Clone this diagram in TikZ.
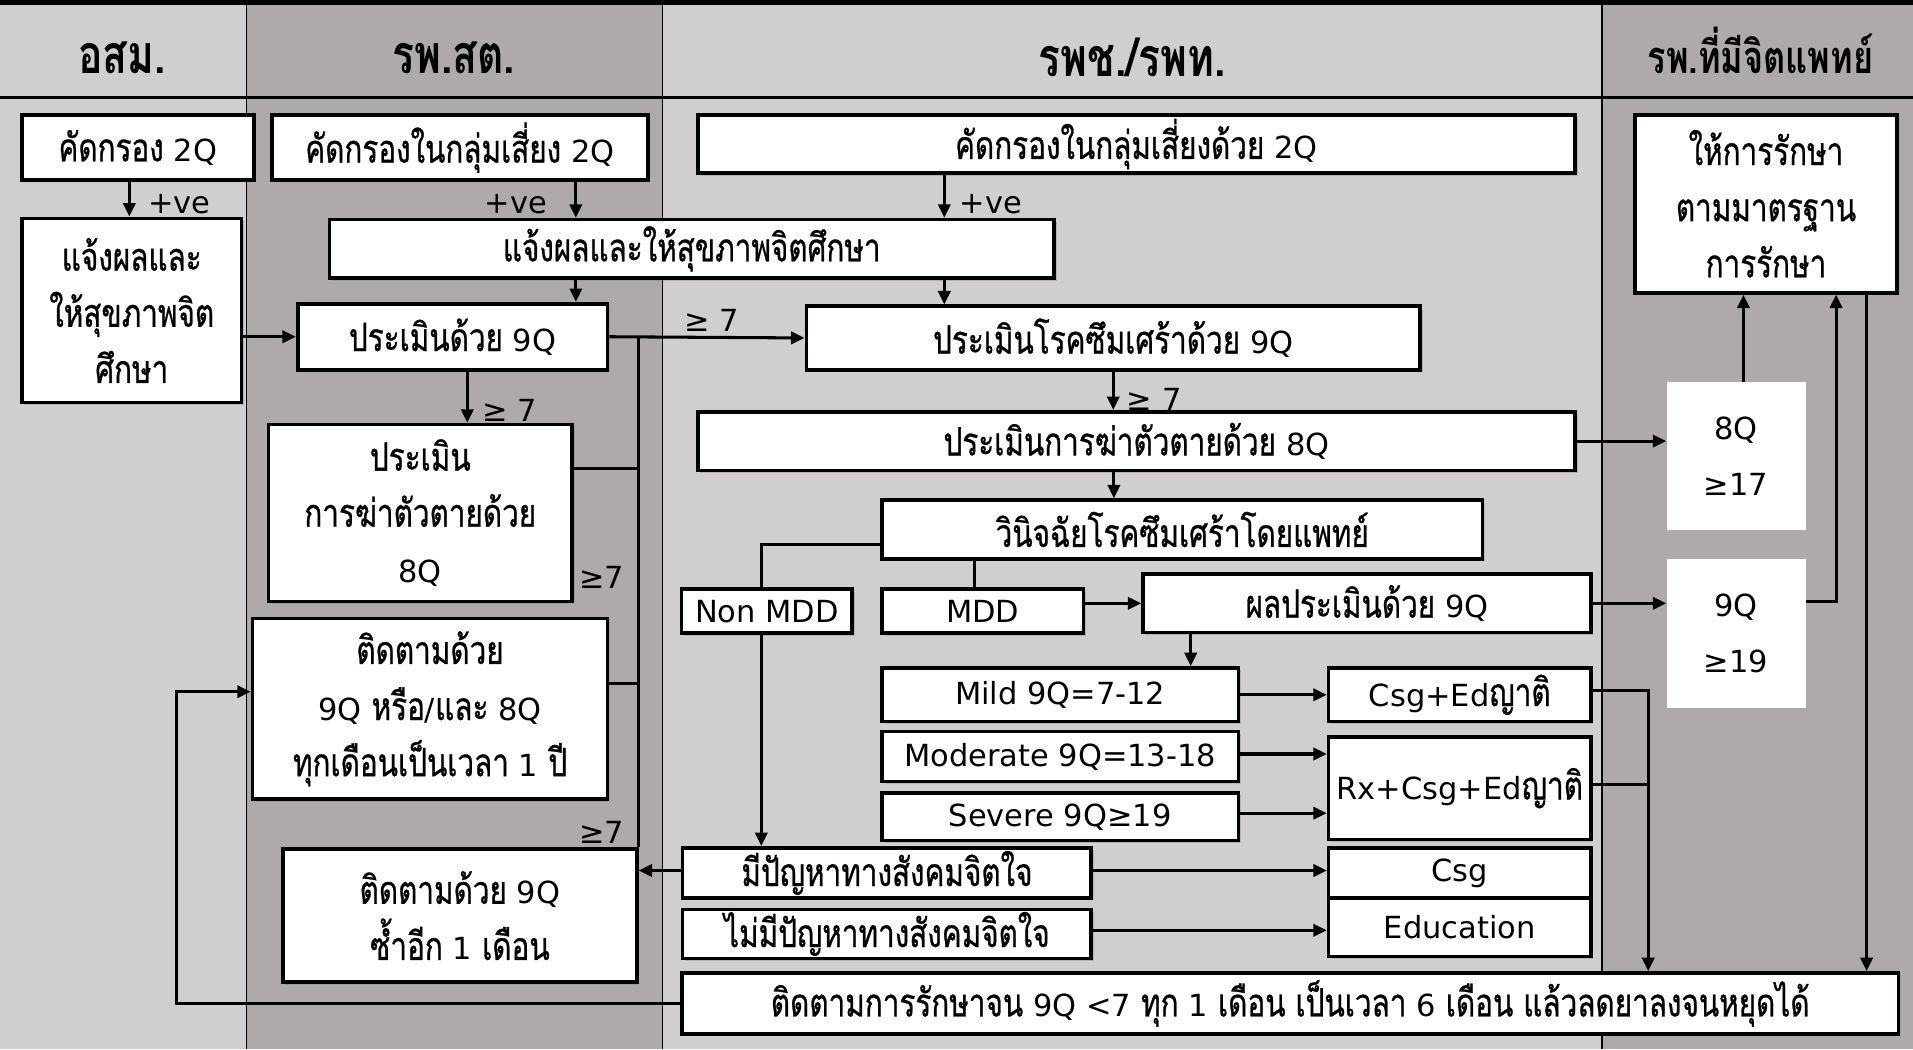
\documentclass[tikz,border=0pt]{standalone}
\usepackage{fontspec}
\setmainfont{Loma}[Script=Thai,FakeStretch=0.76,UprightFeatures={FakeBold=0.7}]
\newfontfamily\latf{DejaVu Sans}[Scale=0.78]
\newcommand\lat[1]{{\latf #1}}
\usetikzlibrary{arrows.meta,shadows,calc}
\definecolor{lg}{RGB}{208,206,206}
\definecolor{dg}{RGB}{174,170,170}
\newcommand\bodyf{\fontsize{32}{46}\selectfont}
\newcommand\hdrf{\fontsize{44}{50}\selectfont\bfseries}
\tikzset{
  box/.style={draw, line width=3pt, fill=white, inner sep=0pt, align=center, font=\bodyf,
    drop shadow={shadow xshift=2pt, shadow yshift=-2pt, opacity=0.35}},
  plainbox/.style={fill=white, inner sep=0pt, align=center, font=\bodyf},
  hdr/.style={font=\hdrf, inner sep=0pt},
  lbl/.style={font=\bodyf, inner sep=0pt},
  arr/.style={line width=2.5pt, -{Triangle[length=11pt,width=10pt]}},
  ln/.style={line width=2.5pt},
}
\begin{document}
\begin{tikzpicture}[x=1pt,y=-1pt]
\useasboundingbox (0,0) rectangle (1568,860);
% columns
\fill[lg] (0,0) rectangle (202,860);
\fill[dg] (202,0) rectangle (543,860);
\fill[lg] (543,0) rectangle (1313,860);
\fill[dg] (1313,0) rectangle (1568,860);
\draw[line width=1.5pt] (202,0) -- (202,860);
\draw[line width=1.5pt] (543,0) -- (543,860);
\draw[line width=1.5pt] (1313,0) -- (1313,860);
\draw[line width=2pt] (0,80) -- (1568,80);
\draw[line width=4pt] (0,2) -- (1568,2);
% headers
\node[hdr] (h1) at (100,47) {อสม.};
\node[hdr] (h2) at (372,47) {รพ.สต.};
\node[hdr] (h3) at (928,47) {รพช./รพท.};
\node[hdr, font=\fontsize{37}{42}\selectfont\bfseries] (h4) at (1443,41) {รพ.ที่มีจิตแพทย์};
% column 1
\node[box, minimum width=190, minimum height=53] (A1) at (113,121) {คัดกรอง \lat{2Q}};
\node[box, minimum width=180, minimum height=151] (A2) at (108,254.5) {แจ้งผลและ\\ให้สุขภาพจิต\\ศึกษา};
% column 2
\node[box, minimum width=308, minimum height=53] (B1) at (377,121) {คัดกรองในกลุ่มเสี่ยง \lat{2Q}};
\node[box, minimum width=594, minimum height=48] (B2) at (567,204) {แจ้งผลและให้สุขภาพจิตศึกษา};
\node[box, minimum width=254, minimum height=54] (B3) at (371,276) {ประเมินด้วย \lat{9Q}};
\node[box, minimum width=249, minimum height=145] (B4) at (344.5,420.5) {ประเมิน\\การฆ่าตัวตายด้วย\\\lat{8Q}};
\node[box, minimum width=291, minimum height=148] (B5) at (352.5,581) {ติดตามด้วย\\\lat{9Q} หรือ\lat{/}และ \lat{8Q}\\ทุกเดือนเป็นเวลา \lat{1} ปี};
\node[box, minimum width=290, minimum height=109] (B6) at (377,750.5) {ติดตามด้วย \lat{9Q}\\ซ้ำอีก \lat{1} เดือน};
% column 3
\node[box, minimum width=719, minimum height=48] (C1) at (931.5,118) {คัดกรองในกลุ่มเสี่ยงด้วย \lat{2Q}};
\node[box, minimum width=503, minimum height=52] (C2) at (912.5,277) {ประเมินโรคซึมเศร้าด้วย \lat{9Q}};
\node[box, minimum width=719, minimum height=48] (C3) at (931.5,361.5) {ประเมินการฆ่าตัวตายด้วย \lat{8Q}};
\node[box, minimum width=492, minimum height=48] (C4) at (969,434) {วินิจฉัยโรคซึมเศร้าโดยแพทย์};
\node[box, minimum width=140, minimum height=36] (C5) at (628.5,501) {\lat{Non MDD}};
\node[box, minimum width=165, minimum height=36] (C6) at (805.5,501) {\lat{MDD}};
\node[box, minimum width=367, minimum height=48] (C7) at (1120.5,494.5) {ผลประเมินด้วย \lat{9Q}};
\node[box, minimum width=292, minimum height=44] (C8) at (869,569.5) {\lat{Mild 9Q=7-12}};
\node[box, minimum width=292, minimum height=41] (C9) at (869,620) {\lat{Moderate 9Q=13-18}};
\node[box, minimum width=292, minimum height=39] (C10) at (869,669.5) {\lat{Severe 9Q≥19}};
\node[box, minimum width=215, minimum height=44] (C11) at (1196.5,569.5) {\lat{Csg+Ed}ญาติ};
\node[box, minimum width=215, minimum height=84] (C12) at (1196.5,646) {\lat{Rx+Csg+Ed}ญาติ};
\node[box, minimum width=335, minimum height=41] (C13) at (727,715.5) {มีปัญหาทางสังคมจิตใจ};
\node[box, minimum width=335, minimum height=40] (C14) at (727,765.5) {ไม่มีปัญหาทางสังคมจิตใจ};
\node[box, minimum width=215, minimum height=41] (C15) at (1196.5,715.5) {\lat{Csg}};
\node[box, minimum width=215, minimum height=48] (C16) at (1196.5,760) {\lat{Education}};
\node[box, minimum width=997, minimum height=50] (C17) at (1057.5,822.5) {ติดตามการรักษาจน \lat{9Q <7} ทุก \lat{1} เดือน เป็นเวลา \lat{6} เดือน แล้วลดยาลงจนหยุดได้};
% column 4
\node[box, minimum width=215, minimum height=146] (D1) at (1447.5,167) {ให้การรักษา\\ตามมาตรฐาน\\การรักษา};
\node[plainbox, minimum width=114, minimum height=121] (D2) at (1423,374) {\lat{8Q}\\\lat{≥17}};
\node[plainbox, minimum width=114, minimum height=122] (D3) at (1423,519) {\lat{9Q}\\\lat{≥19}};
% labels
\node[lbl] (l1) at (147,167) {\lat{+ve}};
\node[lbl] (l2) at (423,167) {\lat{+ve}};
\node[lbl] (l3) at (812,167) {\lat{+ve}};
\node[lbl] (l4) at (583,263) {\lat{≥ 7}};
\node[lbl] (l5) at (418,336) {\lat{≥ 7}};
\node[lbl] (l6) at (946,327) {\lat{≥ 7}};
\node[lbl] (l7) at (493,473) {\lat{≥7}};
\node[lbl] (l8) at (493,682) {\lat{≥7}};
% connectors
\draw[arr] ([xshift=-7]A1.south) -- ([xshift=-7]A1.south |- A2.north);
\draw[arr] ([xshift=95]B1.south) -- ([xshift=95]B1.south |- B2.north);
\draw[arr] ([xshift=-157.5]C1.south) -- ([xshift=-157.5]C1.south |- B2.north);
\draw[arr] ([xshift=-95]B2.south) -- ([xshift=-95]B2.south |- B3.north);
\draw[arr] ([xshift=207]B2.south) -- ([xshift=207]B2.south |- C2.north);
\draw[arr] (A2.east |- B3.west) -- (B3.west);
\draw[arr] (B3.east) -- (C2.west);
\draw[arr] ([xshift=12]B3.south) -- ([xshift=12]B3.south |- B4.north);
\draw[ln] (B6.north east) -- (B6.north east |- B3.east);
\draw[ln] ([yshift=36.5]B4.east) -- ([yshift=36.5]B4.east -| B6.north east);
\draw[ln] ([yshift=21]B5.east) -- ([yshift=21]B5.east -| B6.north east);
\draw[arr] (C2.south) -- (C2.south |- C3.north);
\draw[arr] ([xshift=-18.5]C3.south) -- ([xshift=-18.5]C3.south |- C4.north);
\draw[arr] (C3.east) -- (C3.east -| D2.west);
\draw[ln] ([yshift=-12]C4.west) -| ([xshift=-4.5]C5.north);
\draw[arr] ([xshift=-4.5]C5.south) -- ([xshift=-4.5]C5.south |- C13.north);
\draw[ln] ([xshift=-170]C4.south) -- ([xshift=-170]C4.south |- C6.north);
\draw[arr] (C6.east |- C7.west) -- (C7.west);
\draw[arr] ([xshift=-144.5]C7.south) -- ([xshift=-144.5]C7.south |- C8.north);
\draw[arr] (C7.east) -- (C7.east -| D3.west);
\draw[arr] (C8.east) -- (C11.west);
\draw[arr] ([yshift=2]C9.east) -- ([yshift=2]C9.east -| C12.west);
\draw[arr] ([yshift=3]C10.east) -- ([yshift=3]C10.east -| C12.west);
\draw[arr] ([yshift=2]C13.east) -- ([yshift=2]C13.east -| C15.west);
\draw[arr] ([yshift=3]C14.east) -- ([yshift=3]C14.east -| C16.west);
\draw[arr] ([yshift=2]C13.west) -- ([yshift=2]C13.west -| B6.east);
\coordinate (jx) at ([xshift=293.5]C17.north);
\draw[arr] ([yshift=3.5]C11.east) -| (jx);
\draw[ln] ([yshift=3]C12.east) -- ([yshift=3]C12.east -| jx);
\draw[arr] ([xshift=82.5]D1.south) -- ([xshift=82.5]D1.south |- C17.north);
\draw[arr] ([xshift=6]D2.north) -- ([xshift=6]D2.north |- D1.south);
\draw[arr] ([yshift=26]D3.east) -| ([xshift=57.5]D1.south);
\coordinate (lp) at (145,822.5);
\draw[arr] (C17.west) -- (lp) |- ([yshift=14]B5.west);
\end{tikzpicture}
\end{document}
